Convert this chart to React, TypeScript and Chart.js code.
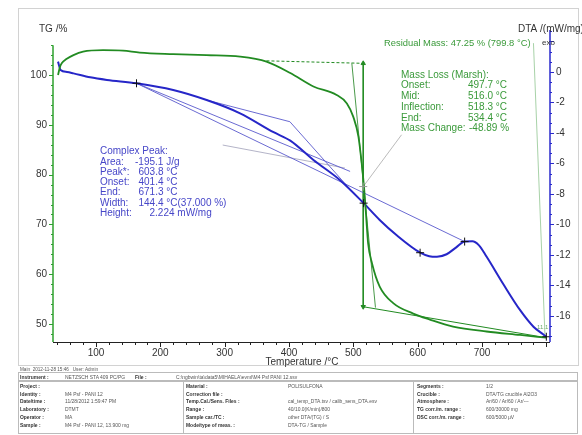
import React, { useEffect, useRef } from "react";
import { Chart, registerables } from "chart.js";

Chart.register(...registerables);

// ---------------- data ----------------
const tgTemps = [41, 44, 47, 54, 65, 80, 111, 142, 168, 220, 272, 324, 365, 402, 438, 474, 490, 500, 508, 513, 517, 520, 523, 529, 541, 562, 593, 619, 655, 707, 759, 800];
const tgValues = [100.0, 101.6, 102.4, 103.2, 104.0, 104.7, 105.0, 104.9, 104.5, 104.2, 104.0, 103.7, 102.7, 100.4, 97.7, 96.0, 94.3, 91.6, 87.6, 82.3, 76.9, 71.5, 66.2, 62.2, 57.5, 54.2, 52.1, 50.9, 49.5, 48.5, 47.8, 47.25];

const dtaTemps = [41, 45, 55, 65, 91, 117, 163, 220, 272, 324, 376, 402, 438, 479, 516, 541, 567, 604, 618, 630, 645, 660, 673, 685, 695, 707, 733, 759, 780, 795, 800];
const dtaValues = [0.68, 0.13, 0.0, -0.09, -0.35, -0.52, -0.74, -1.18, -1.84, -2.71, -3.95, -4.5, -5.77, -7.08, -8.6, -9.7, -10.69, -11.85, -12.08, -12.12, -11.95, -11.5, -11.12, -11.1, -11.35, -12.1, -13.9, -15.6, -16.7, -17.2, -17.36];

// DTA evaluation construction lines
const dtaBaselineT = [163, 673];
const dtaBaselineV = [-0.74, -11.12];
const dtaChordT = [163, 495];
const dtaChordV = [-0.74, -6.52];
const dtaOnsetT = [272, 401.4, 492];
const dtaOnsetV = [-1.84, -3.26, -7.55];
const peakLeaderT = [297, 487];
const peakLeaderV = [-4.79, -6.3];
const dtaMarkT = [163, 516, 603.8, 673, 800];
const dtaMarkV = [-0.74, -8.6, -11.85, -11.12, -17.36];

// TG evaluation construction lines
const tgTopBaseT = [365, 515.4];
const tgTopBaseV = [102.85, 102.35];
const tgStepT = [515.4, 515.4];
const tgStepV = [102.35, 53.47];
const tgTangentT = [497.7, 534.4];
const tgTangentV = [102.35, 53.3];
const tgBottomBaseT = [515.4, 800];
const tgBottomBaseV = [53.47, 47.25];
const residualLeaderT = [780, 798];
const residualLeaderV = [106.4, 47.3];
const massLeaderT = [515.4, 575];
const massLeaderV = [77.6, 88.0];
const tgMarkT = [515.4];
const tgMarkV = [77.6];

// axes
const xRange = [33.2, 805.7];
const tgRange = [46.39, 109.04];
const dtaRange = [-17.705, 2.754];
const xTicks = [100, 200, 300, 400, 500, 600, 700];
const tgTicks = [50, 60, 70, 80, 90, 100];
const dtaTicks = [0, -2, -4, -6, -8, -10, -12, -14, -16];

const complexPeakLabels = ["Area:", "Peak*:", "Onset:", "End:", "Width:", "Height:"];
const complexPeakValues = ["-195.1 J/g", "603.8 °C", "401.4 °C", "671.3 °C", "144.4 °C(37.000 %)", "2.224 mW/mg"];
const massLossLabels = ["Onset:", "Mid:", "Inflection:", "End:", "Mass Change:"];
const massLossValues = ["497.7 °C", "516.0 °C", "518.3 °C", "534.4 °C", "-48.89 %"];

const zip = (xs: number[], ys: number[]) => xs.map((x, i) => ({ x, y: ys[i] }));

const FONT = '"Liberation Sans", Arial, sans-serif';
const GREEN = "#228b22";
const GREEN_TXT = "#3a9a3a";
const BLUE = "#2626c8";
const BLUE_TXT = "#4646c8";
const THIN_BLUE = "rgba(90,90,205,0.9)";

const decorPlugin = {
  id: "decor",
  beforeDraw(chart: any) {
    const ctx = chart.ctx;
    ctx.save();
    ctx.fillStyle = "#ffffff";
    ctx.fillRect(0, 0, chart.width, chart.height);
    ctx.strokeStyle = "#d2d2d2";
    ctx.lineWidth = 1;
    ctx.strokeRect(18.5, 8.5, 560, 357);
    ctx.restore();
  },
  afterDatasetsDraw(chart: any) {
    const ctx = chart.ctx;
    const { left, right, top, bottom } = chart.chartArea;
    const sx = chart.scales.x;
    const sl = chart.scales.yTG;
    const sr = chart.scales.yDTA;
    const seg = (x1: number, y1: number, x2: number, y2: number) => {
      ctx.beginPath();
      ctx.moveTo(x1, y1);
      ctx.lineTo(x2, y2);
      ctx.stroke();
    };
    ctx.save();
    ctx.font = `10px ${FONT}`;

    // left TG axis
    ctx.strokeStyle = "#2ea02e";
    ctx.lineWidth = 1.5;
    seg(left, sl.getPixelForValue(106), left, bottom);
    ctx.lineWidth = 1;
    for (let v = 48; v <= 106; v += 2) {
      const y = Math.round(sl.getPixelForValue(v)) + 0.5;
      const len = v % 10 === 0 ? 4 : 2;
      seg(left - len, y, left, y);
    }
    ctx.fillStyle = "#333";
    ctx.textAlign = "right";
    ctx.textBaseline = "middle";
    tgTicks.forEach((v) => ctx.fillText(String(v), left - 6, sl.getPixelForValue(v)));

    // bottom axis
    ctx.strokeStyle = "#222";
    ctx.lineWidth = 1;
    seg(left, bottom + 0.5, right, bottom + 0.5);
    for (let v = 40; v <= 800; v += 20) {
      const x = Math.round(sx.getPixelForValue(v)) + 0.5;
      const len = v % 100 === 0 ? 5 : 3;
      seg(x, bottom, x, bottom + len);
    }
    ctx.textAlign = "center";
    xTicks.forEach((v) => ctx.fillText(String(v), sx.getPixelForValue(v), bottom + 11));

    // right DTA axis
    ctx.strokeStyle = "#2a2acc";
    ctx.lineWidth = 1.5;
    seg(right, top, right, bottom);
    ctx.lineWidth = 1;
    for (let k = -26; k <= 4; k++) {
      const v = (k * 2) / 3;
      const y = Math.round(sr.getPixelForValue(v)) + 0.5;
      const len = k % 3 === 0 ? 4 : 2;
      seg(right, y, right + len, y);
    }
    ctx.textAlign = "left";
    dtaTicks.forEach((v) => ctx.fillText(String(v), right + 6, sr.getPixelForValue(v)));

    // axis titles
    ctx.fillStyle = "#333";
    ctx.textAlign = "left";
    ctx.fillText("TG /%", 39, 29);
    ctx.fillText("DTA /(mW/mg)", 518, 29);
    ctx.textAlign = "center";
    ctx.fillText("Temperature /°C", 302, 362);
    ctx.font = `8px ${FONT}`;
    ctx.textAlign = "left";
    ctx.fillText("exo", 542, 43);

    // residual mass
    ctx.font = `9.4px ${FONT}`;
    ctx.fillStyle = GREEN_TXT;
    ctx.fillText("Residual Mass: 47.25 % (799.8 °C)", 384, 43);

    // mass loss block
    ctx.font = `10px ${FONT}`;
    ctx.fillText("Mass Loss (Marsh):", 401, 75);
    massLossLabels.forEach((t, i) => {
      const y = 85.7 + i * 10.7;
      ctx.fillText(t, 401, y);
      ctx.fillText(massLossValues[i], i === 4 ? 469 : 468, y);
    });

    // complex peak block
    ctx.fillStyle = BLUE_TXT;
    ctx.fillText("Complex Peak:", 100, 151.5);
    const valX = [135, 138.5, 138.5, 138.5, 138.5, 149.5];
    complexPeakLabels.forEach((t, i) => {
      const y = 161.8 + i * 10.3;
      ctx.fillText(t, 100, y);
      ctx.fillText(complexPeakValues[i], valX[i], y);
    });

    // tiny label at end
    ctx.font = `6px ${FONT}`;
    ctx.fillStyle = "#6aaa6a";
    ctx.fillText("11.1", 537, 327);
    ctx.restore();
  },
};

const infoRows1 = [
  ["Project :", ""],
  ["Identity :", "M4 Psf - PANI 12"],
  ["Date/time :", "11/28/2012 1:59:47 PM"],
  ["Laboratory :", "DTMT"],
  ["Operator :", "MA"],
  ["Sample :", "M4 Psf - PANI 12, 13.900 mg"],
];
const infoRows2 = [
  ["Material :", "POLISULFONA"],
  ["Correction file :", ""],
  ["Temp.Cal./Sens. Files :", "cal_temp_DTA.tsv / calib_sens_DTA.esv"],
  ["Range :", "40/10.0(K/min)/800"],
  ["Sample car./TC :", "other DTA/(TG) / S"],
  ["Mode/type of meas. :", "DTA-TG / Sample"],
];
const infoRows3 = [
  ["Segments :", "1/2"],
  ["Crucible :", "DTA/TG crucible Al2O3"],
  ["Atmosphere :", "Ar/60 / Ar/60 / Ar/---"],
  ["TG corr./m. range :", "600/30000 mg"],
  ["DSC corr./m. range :", "600/5000 µV"],
];

const txt = (left: number, cy: number, bold = false, size = 6.2): React.CSSProperties => ({
  position: "absolute",
  left,
  top: cy - 4.5,
  fontSize: size,
  lineHeight: "9px",
  fontWeight: bold ? 700 : 400,
  fontFamily: FONT,
  whiteSpace: "nowrap",
  color: bold ? "#333" : "#555",
  transform: "scaleX(0.8)",
  transformOrigin: "left center",
});

function InfoTable() {
  const rowY = (i: number) => 385.5 + i * 7.7;
  const cols = [
    { rows: infoRows1, lx: 20, vx: 65 },
    { rows: infoRows2, lx: 186, vx: 288 },
    { rows: infoRows3, lx: 417, vx: 486 },
  ];
  return (
    <>
      <div style={txt(20, 369.5, false, 5.8)}>Main&nbsp;&nbsp;2012-11-28 15:46&nbsp;&nbsp;&nbsp;User: Admin</div>
      <div style={{ position: "absolute", left: 18, top: 372, width: 560, height: 9, border: "1px solid #bbb", boxSizing: "border-box" }} />
      <div style={txt(20, 376.5, true)}>Instrument :</div>
      <div style={txt(65, 376.5)}>NETZSCH STA 409 PC/PG</div>
      <div style={txt(135, 376.5, true)}>File :</div>
      <div style={txt(176, 376.5)}>C:\ngbwin\ta\data5\MIHAELA\evml\M4 Psf PANI 12.ssv</div>
      <div style={{ position: "absolute", left: 18, top: 381, width: 560, height: 53, border: "1px solid #bbb", boxSizing: "border-box" }} />
      <div style={{ position: "absolute", left: 183, top: 381, width: 1, height: 53, background: "#bbb" }} />
      <div style={{ position: "absolute", left: 413, top: 381, width: 1, height: 53, background: "#bbb" }} />
      {cols.map((c, ci) =>
        c.rows.map((r, i) => (
          <React.Fragment key={`${ci}-${i}`}>
            <div style={txt(c.lx, rowY(i), true)}>{r[0]}</div>
            <div style={txt(c.vx, rowY(i))}>{r[1]}</div>
          </React.Fragment>
        ))
      )}
    </>
  );
}

export default function App() {
  const canvasRef = useRef<HTMLCanvasElement | null>(null);

  useEffect(() => {
    if (!canvasRef.current) return;
    const thin = (data: any, color: string, yAxisID: string, extra: any = {}) => ({
      data,
      yAxisID,
      xAxisID: "x",
      borderColor: color,
      borderWidth: 1,
      pointRadius: 0,
      tension: 0,
      fill: false,
      ...extra,
    });
    const chart = new Chart(canvasRef.current, {
      type: "line",
      data: {
        datasets: [
          {
            data: zip(dtaMarkT, dtaMarkV),
            yAxisID: "yDTA",
            xAxisID: "x",
            showLine: false,
            pointStyle: "cross",
            pointRadius: 4,
            borderColor: "#111",
            borderWidth: 1,
          },
          {
            data: zip(tgMarkT, tgMarkV),
            yAxisID: "yTG",
            xAxisID: "x",
            showLine: false,
            pointStyle: "cross",
            pointRadius: 4,
            borderColor: "#999",
            borderWidth: 1,
          },
          {
            data: zip(tgTemps, tgValues),
            yAxisID: "yTG",
            xAxisID: "x",
            borderColor: GREEN,
            borderWidth: 1.8,
            pointRadius: 0,
            cubicInterpolationMode: "monotone",
            fill: false,
          },
          {
            data: zip(dtaTemps, dtaValues),
            yAxisID: "yDTA",
            xAxisID: "x",
            borderColor: BLUE,
            borderWidth: 2,
            pointRadius: 0,
            cubicInterpolationMode: "monotone",
            fill: false,
          },
          thin(zip(dtaBaselineT, dtaBaselineV), THIN_BLUE, "yDTA"),
          thin(zip(dtaChordT, dtaChordV), THIN_BLUE, "yDTA"),
          thin(zip(dtaOnsetT, dtaOnsetV), THIN_BLUE, "yDTA"),
          thin(zip(peakLeaderT, peakLeaderV), "#b4b4c8", "yDTA"),
          thin(zip(tgTopBaseT, tgTopBaseV), GREEN, "yTG", { borderDash: [3, 2] }),
          thin(zip(tgStepT, tgStepV), GREEN, "yTG", {
            pointStyle: "triangle",
            pointRadius: 2.5,
            pointRotation: [0, 180],
            pointBackgroundColor: GREEN,
            pointBorderColor: GREEN,
          }),
          thin(zip(tgTangentT, tgTangentV), "#4a9a4a", "yTG"),
          thin(zip(tgBottomBaseT, tgBottomBaseV), GREEN, "yTG"),
          thin(zip(residualLeaderT, residualLeaderV), "#a8d2a8", "yTG"),
          thin(zip(massLeaderT, massLeaderV), "#bbbbbb", "yTG"),
        ],
      },
      options: {
        animation: false,
        responsive: false,
        maintainAspectRatio: false,
        devicePixelRatio: 1,
        layout: { padding: { left: 53, right: 32, top: 30, bottom: 93 } },
        plugins: { legend: { display: false }, tooltip: { enabled: false } },
        scales: {
          x: { type: "linear", min: xRange[0], max: xRange[1], display: false },
          yTG: { type: "linear", position: "left", min: tgRange[0], max: tgRange[1], display: false },
          yDTA: { type: "linear", position: "right", min: dtaRange[0], max: dtaRange[1], display: false },
        },
      },
      plugins: [decorPlugin],
    } as any);
    return () => chart.destroy();
  }, []);

  return (
    <div style={{ position: "absolute", left: 0, top: 0, width: 582, height: 435, background: "#fff", overflow: "hidden" }}>
      <canvas ref={canvasRef} width={582} height={435} style={{ position: "absolute", left: 0, top: 0, width: 582, height: 435 }} />
      <InfoTable />
    </div>
  );
}
